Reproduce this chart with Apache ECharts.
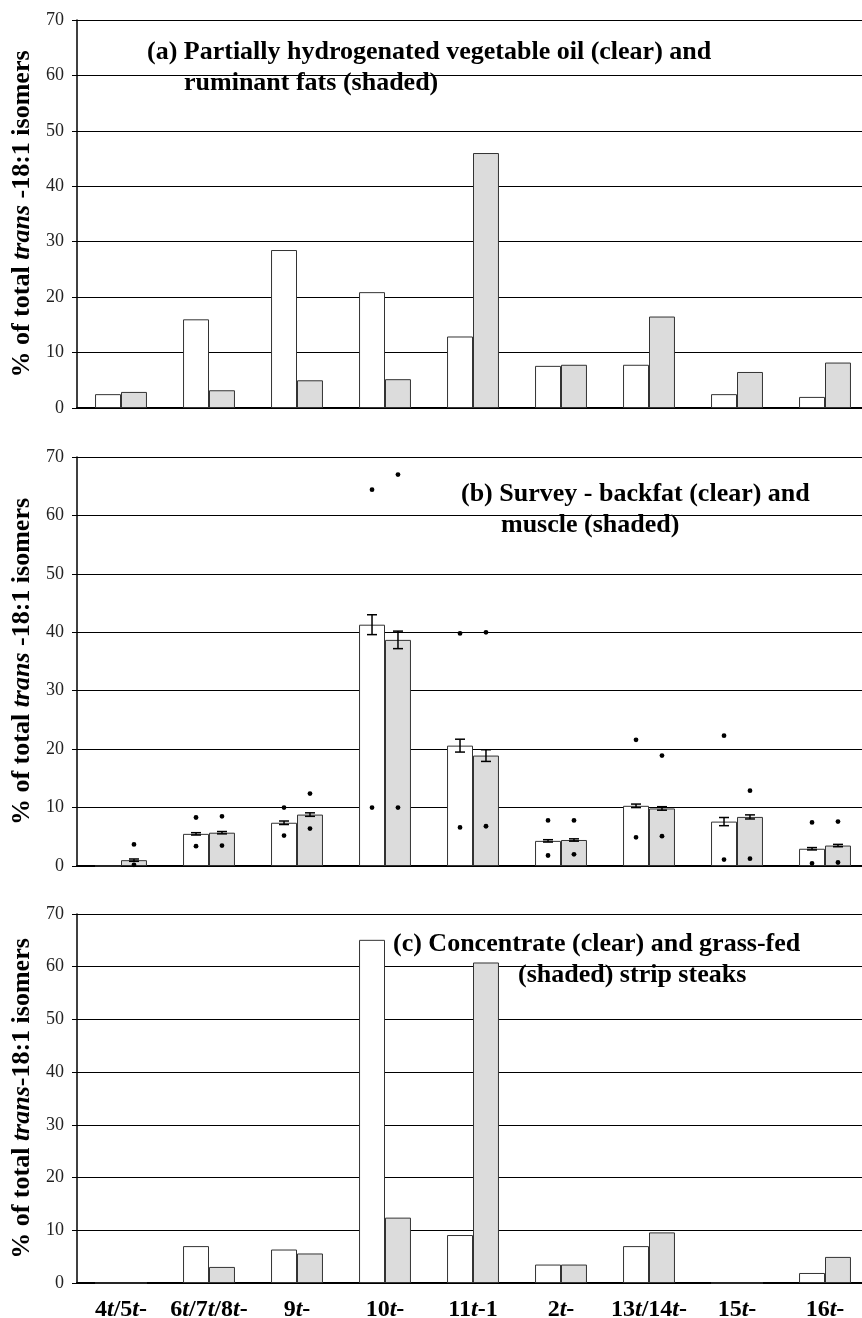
<!DOCTYPE html>
<html>
<head>
<meta charset="utf-8">
<script src="https://cdn.jsdelivr.net/npm/echarts@6/dist/echarts.min.js"></script>
<style>
html,body{margin:0;padding:0;background:#fff;}
#main{width:862px;height:1318px;}
</style>
</head>
<body>
<div id="main"></div>
<script>
const categories = ['4t/5t-','6t/7t/8t-','9t-','10t-','11t-1','2t-','13t/14t-','15t-','16t-'];
const yTicks = [0,10,20,30,40,50,60,70];

// (a) Partially hydrogenated vegetable oil (clear) and ruminant fats (shaded)
const aClear  = [2.5, 16.0, 28.5, 20.9, 12.9, 7.6, 7.8, 2.5, 2.0];
const aShaded = [2.9, 3.2, 5.0, 5.2, 46.0, 7.8, 16.5, 6.5, 8.2];

// (b) Survey - backfat (clear) and muscle (shaded)
const bClear      = [0, 5.5, 7.4, 41.3, 20.6, 4.3, 10.3, 7.6, 2.95];
const bShaded     = [1.0, 5.7, 8.8, 38.7, 18.9, 4.45, 9.85, 8.4, 3.5];
const bClearErr   = [0, 0.2, 0.3, 1.7, 1.1, 0.2, 0.3, 0.7, 0.2];
const bShadedErr  = [0.2, 0.2, 0.3, 1.5, 1.0, 0.2, 0.3, 0.35, 0.2];
const bClearMax   = [null, 8.3, 10.0, 64.4, 39.8, 7.8, 21.6, 22.3, 7.45];
const bClearMin   = [null, 3.4, 5.2, 10.0, 6.6, 1.8, 4.9, 1.1, 0.45];
const bShadedMax  = [3.7, 8.5, 12.4, 67.0, 40.0, 7.8, 18.9, 12.9, 7.6];
const bShadedMin  = [0.2, 3.5, 6.4, 10.0, 6.8, 2.0, 5.1, 1.25, 0.6];

// (c) Concentrate (clear) and grass-fed (shaded) strip steaks
const cClear  = [0, 7.0, 6.35, 65.1, 9.1, 3.5, 7.0, 0, 1.9];
const cShaded = [0, 3.05, 5.6, 12.4, 60.8, 3.5, 9.6, 0, 4.95];

const SERIF = 'Liberation Serif';
const BAR_W = 0.295;
const grids = [
  {left: 77, width: 792, top: 20, height: 388, outerBoundsMode: 'none', containLabel: false},
  {left: 77, width: 792, top: 457, height: 409, outerBoundsMode: 'none', containLabel: false},
  {left: 77, width: 792, top: 914, height: 369, outerBoundsMode: 'none', containLabel: false}
];

function xAxis(i, showLabels) {
  return {
    type: 'category', gridIndex: i, data: categories,
    axisLine: {show: true, lineStyle: {color: '#000', width: 2}},
    axisTick: {show: false},
    axisLabel: showLabels ? {
      show: true, margin: 15, interval: 0,
      formatter: v => v.replace(/t/g, '{i|t}'),
      fontFamily: SERIF, fontWeight: 'bold', fontSize: 24, color: '#000',
      rich: {i: {fontFamily: SERIF, fontWeight: 'bold', fontStyle: 'italic', fontSize: 24, color: '#000'}}
    } : {show: false},
    splitLine: {show: false}
  };
}
function yAxis(i, name) {
  return {
    type: 'value', gridIndex: i, min: yTicks[0], max: yTicks[yTicks.length-1], interval: 10,
    name: name, nameLocation: 'middle', nameGap: 40,
    nameTextStyle: {
      fontFamily: SERIF, fontWeight: 'bold', fontSize: 26, color: '#000',
      rich: {i: {fontFamily: SERIF, fontWeight: 'bold', fontStyle: 'italic', fontSize: 26, color: '#000'}}
    },
    axisLine: {show: true, lineStyle: {color: '#000', width: 1.5}},
    axisTick: {show: true, length: 5, lineStyle: {color: '#000', width: 1}},
    axisLabel: {fontFamily: SERIF, fontSize: 18, color: '#222', margin: 13},
    splitLine: {show: true, lineStyle: {color: '#000', width: 1}}
  };
}
function bars(i, clear, shaded) {
  const common = {type: 'bar', xAxisIndex: i, yAxisIndex: i, barWidth: (BAR_W*100)+'%', barGap: '0%', z: 2};
  return [
    Object.assign({}, common, {name: 'clear'+i, data: clear, itemStyle: {color: '#fff', borderColor: '#333', borderWidth: 1}}),
    Object.assign({}, common, {name: 'shaded'+i, data: shaded, itemStyle: {color: '#dcdcdc', borderColor: '#333', borderWidth: 1}})
  ];
}
function errSeries(i, vals, errs, side) {
  const data = vals.map((v, k) => [k, v - errs[k], v + errs[k]]).filter((d, k) => errs[k] > 0);
  return {
    type: 'custom', xAxisIndex: i, yAxisIndex: i, z: 5, data: data,
    renderItem: function (params, api) {
      const k = api.value(0);
      const bw = api.size([1, 0])[0] * BAR_W;
      const lo = api.coord([k, api.value(1)]);
      const hi = api.coord([k, api.value(2)]);
      const x = lo[0] + side * bw / 2;
      const cap = 5;
      const st = {stroke: '#000', lineWidth: 1.5};
      return {type: 'group', children: [
        {type: 'line', shape: {x1: x, y1: lo[1], x2: x, y2: hi[1]}, style: st},
        {type: 'line', shape: {x1: x - cap, y1: lo[1], x2: x + cap, y2: lo[1]}, style: st},
        {type: 'line', shape: {x1: x - cap, y1: hi[1], x2: x + cap, y2: hi[1]}, style: st}
      ]};
    }
  };
}
function dotSeries(i, maxs, mins, side) {
  const data = [];
  maxs.forEach((v, k) => { if (v != null) data.push([k, v]); });
  mins.forEach((v, k) => { if (v != null) data.push([k, v]); });
  return {
    type: 'custom', xAxisIndex: i, yAxisIndex: i, z: 6, data: data,
    renderItem: function (params, api) {
      const k = api.value(0);
      const bw = api.size([1, 0])[0] * BAR_W;
      const p = api.coord([k, api.value(1)]);
      return {type: 'circle', shape: {cx: p[0] + side * bw / 2, cy: p[1], r: 2.4}, style: {fill: '#000'}};
    }
  };
}
function titleLine(text, left, top) {
  return {text: text, left: left, top: top, padding: 0,
    textStyle: {fontFamily: SERIF, fontWeight: 'bold', fontSize: 26, color: '#000'}};
}

const chart = echarts.init(document.getElementById('main'), null, {renderer: 'canvas'});
chart.setOption({
  backgroundColor: '#fff',
  animation: false,
  title: [
    titleLine('(a) Partially hydrogenated vegetable oil (clear) and', 147, 39),
    titleLine('ruminant fats (shaded)', 184, 70),
    titleLine('(b) Survey - backfat (clear) and', 461, 481),
    titleLine('muscle (shaded)', 501, 512),
    titleLine('(c) Concentrate (clear) and grass-fed', 393, 931),
    titleLine('(shaded) strip steaks', 518, 962)
  ],
  grid: grids,
  xAxis: [xAxis(0, false), xAxis(1, false), xAxis(2, true)],
  yAxis: [
    yAxis(0, '% of total {i|trans} -18:1 isomers'),
    yAxis(1, '% of total {i|trans} -18:1 isomers'),
    yAxis(2, '% of total {i|trans}-18:1 isomers')
  ],
  series: [].concat(
    bars(0, aClear, aShaded),
    bars(1, bClear, bShaded),
    bars(2, cClear, cShaded),
    [errSeries(1, bClear, bClearErr, -1), errSeries(1, bShaded, bShadedErr, 1),
     dotSeries(1, bClearMax, bClearMin, -1), dotSeries(1, bShadedMax, bShadedMin, 1)]
  )
});
</script>
</body>
</html>
